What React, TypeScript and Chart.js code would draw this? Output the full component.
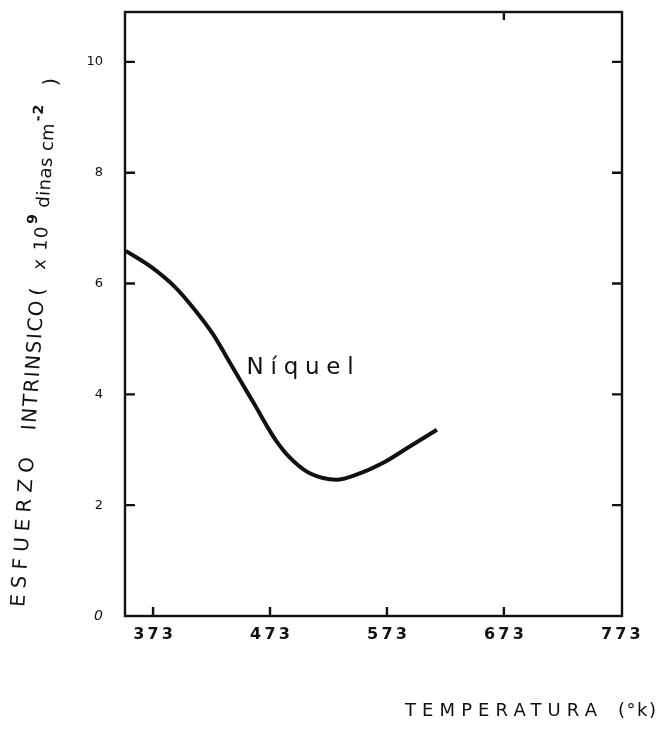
import React, { useEffect, useRef } from "react";
import { Chart, registerables } from "chart.js";

Chart.register(...registerables);

// Data
const temperatures = [349.6, 371.3, 391.6, 409.3, 424.1, 436, 447.9, 459.7, 471.7, 477.7, 489.4, 504.1, 518.3, 529.9, 546.9, 569.4, 591.8, 615.7];
const stress = [6.59, 6.3, 5.94, 5.51, 5.09, 4.67, 4.24, 3.82, 3.38, 3.18, 2.87, 2.61, 2.49, 2.46, 2.55, 2.76, 3.05, 3.36];
const xTicks = [373, 473, 573, 673, 773];
const yTicks = [0, 2, 4, 6, 8, 10];
const seriesLabel = "Níquel";
const xTitleParts = ["TEMPERATURA", "(°k)"];
const yTitleParts = ["ESFUERZO", "INTRINSICO", "(", "x", "10", "9", "dinas", "cm", "-2", ")"];
const labelAt = { x: 453, y: 4.48 };

const INK = "#111";

function spacedText(ctx: any, text: string, x: number, y: number, width: number) {
  ctx.letterSpacing = "0px";
  const w = ctx.measureText(text).width;
  const n = Math.max(1, Array.from(text).length - 1);
  ctx.letterSpacing = `${(width - w) / n}px`;
  ctx.fillText(text, x, y);
  ctx.letterSpacing = "0px";
}

const framePlugin = {
  id: "frame",
  afterDatasetsDraw(chart: any) {
    const { ctx, chartArea, scales } = chart;
    const { left, right, top, bottom } = chartArea;
    const x = scales.x;
    const y = scales.y;
    ctx.save();
    ctx.strokeStyle = INK;
    ctx.lineWidth = 2.4;
    ctx.strokeRect(left, top, right - left, bottom - top);
    ctx.beginPath();
    yTicks.forEach((v) => {
      if (v === 0) return;
      const py = y.getPixelForValue(v);
      ctx.moveTo(left, py);
      ctx.lineTo(left + 10, py);
      ctx.moveTo(right - 10, py);
      ctx.lineTo(right, py);
    });
    xTicks.slice(0, 4).forEach((v) => {
      const px = x.getPixelForValue(v);
      ctx.moveTo(px, bottom);
      ctx.lineTo(px, bottom - 9);
    });
    const pt = x.getPixelForValue(xTicks[3]);
    ctx.moveTo(pt, top);
    ctx.lineTo(pt, top + 8);
    ctx.stroke();

    ctx.fillStyle = INK;
    ctx.textAlign = "left";
    ctx.textBaseline = "middle";
    // series label
    ctx.font = '23px "DejaVu Sans"';
    spacedText(ctx, seriesLabel, x.getPixelForValue(labelAt.x), y.getPixelForValue(labelAt.y), 107);

    // x title
    ctx.font = '18px "DejaVu Sans"';
    spacedText(ctx, xTitleParts[0], 405, 711, 192);
    spacedText(ctx, xTitleParts[1], 618, 711, 38);

    // y title (slightly slanted like the typed original)
    const eps = 0.063;
    ctx.translate(19, 607);
    ctx.rotate(-Math.PI / 2 + eps);
    const seg = (t: string, d0: number, d1: number, font: string, dy = 0) => {
      ctx.font = font;
      spacedText(ctx, t, d0, dy, d1 - d0);
    };
    const put = (t: string, d0: number, font: string, dy = 0, sp = 1) => {
      ctx.font = font;
      ctx.letterSpacing = `${sp}px`;
      ctx.fillText(t, d0, dy);
      ctx.letterSpacing = "0px";
    };
    const big = '20px "DejaVu Sans"';
    const mid = '18px "DejaVu Sans"';
    const sup = 'bold 14px "DejaVu Sans"';
    seg(yTitleParts[0], 0, 150, big);
    seg(yTitleParts[1], 177, 307, big);
    put(yTitleParts[2], 312, big, 0, 0);
    put(yTitleParts[3], 338, mid);
    put(yTitleParts[4], 357, mid);
    put(yTitleParts[5], 383, sup, -10, 0);
    put(yTitleParts[6], 400, mid, 0, 0.5);
    put(yTitleParts[7], 457, mid, 0, 0);
    put(yTitleParts[8], 486, sup, -11, 1);
    put(yTitleParts[9], 522, big, 0, 0);
    ctx.restore();
  },
};

export default function App() {
  const ref = useRef<HTMLCanvasElement>(null);
  useEffect(() => {
    if (!ref.current) return;
    const chart = new Chart(ref.current, {
      type: "line",
      data: {
        datasets: [
          {
            label: seriesLabel,
            data: temperatures.map((t, i) => ({ x: t, y: stress[i] })),
            borderColor: INK,
            borderWidth: 4,
            pointRadius: 0,
            cubicInterpolationMode: "monotone",
            fill: false,
          },
        ],
      },
      options: {
        animation: false,
        responsive: true,
        maintainAspectRatio: false,
        layout: { padding: { top: 12, right: 36, left: 0, bottom: 0 } },
        plugins: { legend: { display: false }, tooltip: { enabled: false }, title: { display: false } },
        scales: {
          x: {
            type: "linear",
            min: 349,
            max: 774,
            afterBuildTicks: (s: any) => {
              s.ticks = xTicks.map((v) => ({ value: v }));
            },
            afterFit: (s: any) => {
              s.height = 114;
              s.paddingLeft = 0;
              s.paddingRight = 0;
            },
            grid: { display: false, drawTicks: false },
            border: { display: false },
            ticks: {
              padding: 9,
              color: INK,
              font: { family: "DejaVu Sans", size: 16, weight: "bold" },
              callback: (v: any) => String(v).split("").join("\u2009"),
              maxRotation: 0,
            },
          },
          y: {
            type: "linear",
            min: 0,
            max: 10.9,
            afterBuildTicks: (s: any) => {
              s.ticks = yTicks.map((v) => ({ value: v }));
            },
            afterFit: (s: any) => {
              s.width = 125;
              s.paddingTop = 0;
              s.paddingBottom = 0;
            },
            grid: { display: false, drawTicks: false },
            border: { display: false },
            ticks: {
              padding: 22,
              color: INK,
              font: (c: any) =>
                c.tick && c.tick.value === 0
                  ? { family: "DejaVu Sans", size: 14, style: "italic" }
                  : { family: "DejaVu Sans", size: 13 },
              callback: (v: any) => String(v),
            },
          },
        },
      },
      plugins: [framePlugin],
    });
    return () => chart.destroy();
  }, []);
  return (
    <div style={{ position: "absolute", left: 0, top: 0, width: 658, height: 730, background: "#fff" }}>
      <canvas ref={ref} />
    </div>
  );
}
